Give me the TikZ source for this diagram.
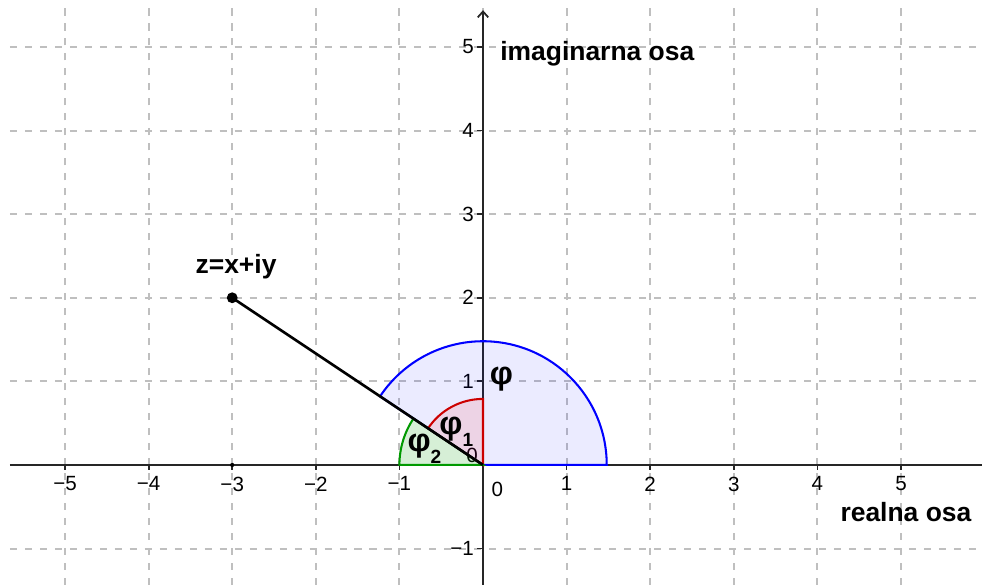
\documentclass[tikz,border=0pt]{standalone}
\usepackage{fontspec}
\setmainfont{Liberation Sans}
\usetikzlibrary{arrows.meta}
\newcommand\ticklbl[1]{\ifnum#1<0 \char"2212\relax\number\numexpr-#1\relax\else#1\fi}
\begin{document}
\begin{tikzpicture}[
  x=1cm, y=1cm,
  font=\fontsize{7}{8}\selectfont,
  gridline/.style={draw=black!25, line width=0.7pt, dash pattern=on 2.4pt off 2.7pt},
  axis/.style={draw=black!85, line width=0.6pt},
  ticklabel/.style={inner sep=0pt},
  lbl/.style={font=\fontsize{9}{11}\selectfont\bfseries, inner sep=0pt},
  anglbl/.style={font=\fontsize{11}{12}\selectfont\bfseries, inner sep=0pt},
  sector/.style={line width=0.7pt}
]
  \useasboundingbox (-5.778,-1.435) rectangle (5.969,5.562);
  \foreach \x in {-5,...,5}
    \draw[gridline] (\x,-1.435) -- (\x,5.47);
  \foreach \y in {-1,...,5}
    \draw[gridline] (-5.66,\y) -- (5.969,\y);
  \draw[axis] (-5.66,0) -- (5.969,0);
  \draw[axis, -{Straight Barb[length=2pt, width=3.6pt]}] (0,-1.435) -- (0,5.44);
  \foreach \x in {-5,...,-1,1,2,3,4,5}
    \draw[axis] (\x,0) -- (\x,-0.06) node[ticklabel, anchor=north] (xlab\x) at (\x,-0.13) {\ticklbl{\x}};
  \foreach \y in {-1,1,2,3,4,5}
    \draw[axis] (0,\y) -- (-0.07,\y) node[ticklabel, anchor=east] (ylab\y) at (-0.1,\y) {\ticklbl{\y}};
  \node[ticklabel] (xzero) at (0.17,-0.29) {0};
  \node[ticklabel] (yzero) at (-0.13,0.11) {0};
  \coordinate (O) at (0,0);
  \coordinate (z) at (-3,2);
  \coordinate (zx) at (-3,0);
  \filldraw[sector, draw=blue, fill=blue, fill opacity=0.08]
    (O) -- (1.48,0) arc[start angle=0, end angle=146.31, radius=1.48] -- cycle;
  \filldraw[sector, draw=red!80!black, fill=red, fill opacity=0.1]
    (O) -- (0,0.79) arc[start angle=90, end angle=146.31, radius=0.79] -- cycle;
  \filldraw[sector, draw=green!60!black, fill=green!60!black, fill opacity=0.16]
    (O) -- (146.31:1) arc[start angle=146.31, end angle=180, radius=1] -- cycle;
  \draw[line width=0.9pt] (z) -- (O);
  \fill (z) circle (0.065);
  \fill (zx) circle (0.025);
  \node[lbl, anchor=base west] (zlbl) at (-3.445,2.285) {z=x+iy};
  \node[lbl, anchor=base west] (imlbl) at (0.20,4.84) {imaginarna osa};
  \node[lbl, anchor=base west] (relbl) at (4.27,-0.68) {realna osa};
  \node[anglbl] (phi) at (0.22,1.03) {φ};
  \node[anglbl] (phi1) at (-0.32,0.40) {φ\raisebox{-0.7ex}{\fontsize{6.5}{7}\selectfont 1}};
  \node[anglbl] (phi2) at (-0.70,0.19) {φ\raisebox{-0.7ex}{\fontsize{6.5}{7}\selectfont 2}};
\end{tikzpicture}
\end{document}
